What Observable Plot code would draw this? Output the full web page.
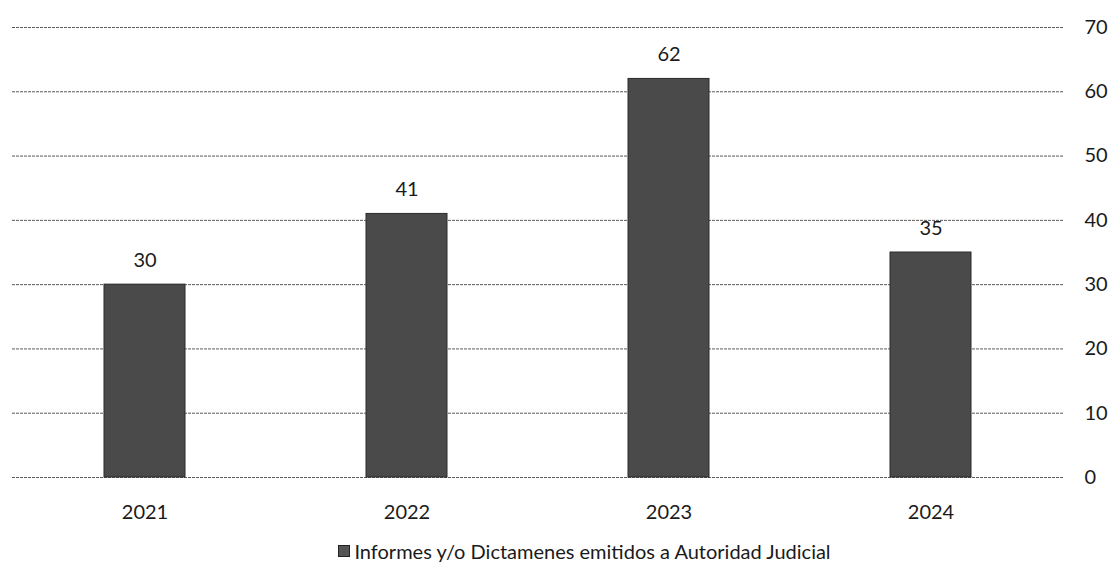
<!DOCTYPE html>
<html>
<head>
<meta charset="utf-8">
<script src="https://cdn.jsdelivr.net/npm/d3@7"></script>
<script src="https://cdn.jsdelivr.net/npm/@observablehq/plot@0.6"></script>
<style>
  html, body { margin: 0; padding: 0; background: #fff; }
  body { width: 1113px; height: 578px; overflow: hidden; font-family: Lato, "Open Sans", sans-serif; }
  #legend { display: flex; justify-content: center; align-items: center; padding-left: 56px; margin-top: 10px; font-size: 20px; color: #1a1a1a; line-height: 22px; }
  #legend .sw { width: 12px; height: 12px; background: #555; margin-right: 4px; border: 1px solid #222; box-sizing: border-box; }
</style>
</head>
<body>
<div id="chart"></div>
<div id="legend"><span class="sw"></span><span>Informes y/o Dictamenes emitidos a Autoridad Judicial</span></div>
<script>
const years = ["2021", "2022", "2023", "2024"];
const values = [30, 41, 62, 35];
const yTicks = [0, 10, 20, 30, 40, 50, 60, 70];
const seriesName = "Informes y/o Dictamenes emitidos a Autoridad Judicial";

const data = years.map((y, i) => ({year: y, value: values[i]}));

const chart = Plot.plot({
  width: 1113,
  height: 530,
  marginTop: 27,
  marginBottom: 53,
  marginLeft: 12,
  marginRight: 50,
  style: {fontFamily: "Lato, 'Open Sans', sans-serif", fontSize: "20px", color: "#1a1a1a", background: "#fff"},
  x: {domain: years, paddingInner: 0.69, paddingOuter: 0.345, label: null},
  y: {domain: [0, 70], label: null},
  marks: [
    Plot.ruleY(yTicks, {stroke: "#5a5a5a", strokeWidth: 1, strokeDasharray: "3,1"}),
    Plot.barY(data, {x: "year", y: "value", fill: "#4a4a4a", stroke: "#2a2a2a", strokeWidth: 1}),
    Plot.text(data, {x: "year", y: "value", text: d => String(d.value), dy: -24, fill: "#1a1a1a", fontSize: 20}),
    Plot.axisX({tickSize: 0, tickPadding: 27, fontSize: 20, fill: "#1a1a1a", label: null}),
    Plot.axisY({anchor: "right", ticks: yTicks, tickSize: 0, tickPadding: 21, fontSize: 20, fill: "#1a1a1a", label: null})
  ]
});
document.getElementById("chart").appendChild(chart);
</script>
</body>
</html>
